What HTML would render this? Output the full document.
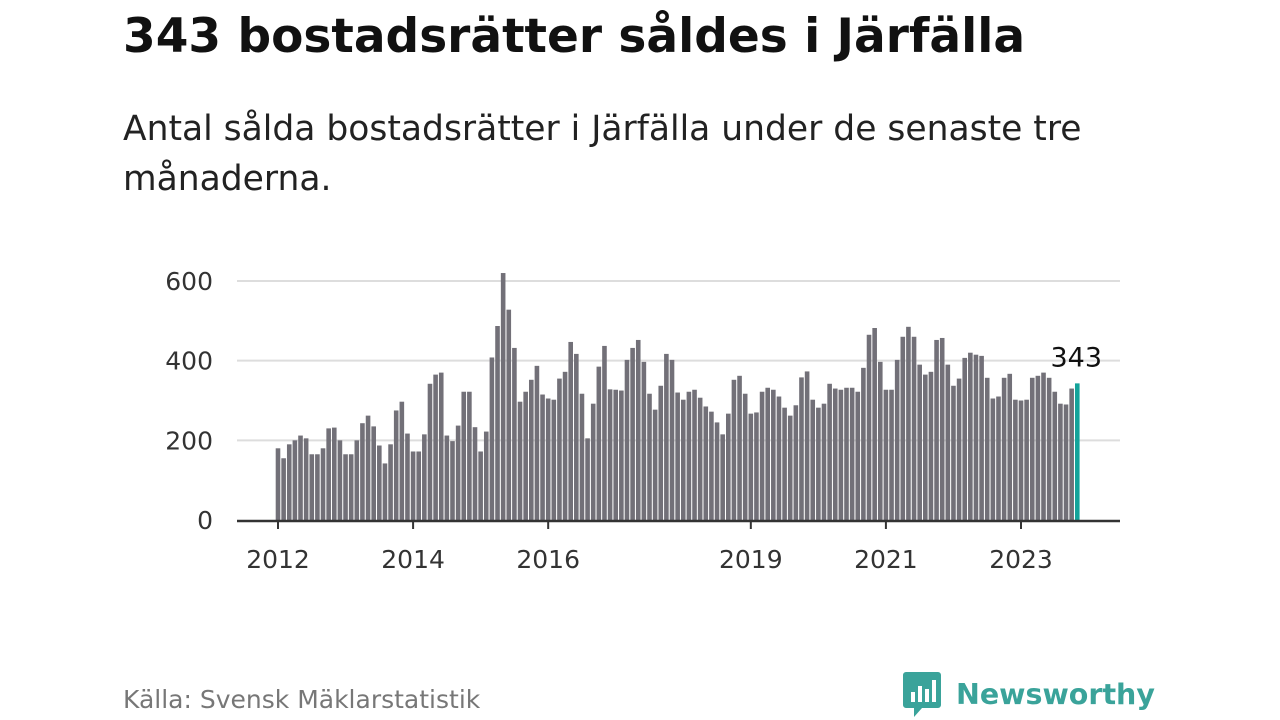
<!DOCTYPE html>
<html><head><meta charset="utf-8"><style>
body{margin:0;width:1280px;height:720px;background:#fff;font-family:"DejaVu Sans","Liberation Sans",sans-serif;overflow:hidden;position:relative}
#title{position:absolute;left:123px;top:7px;font-size:47px;font-weight:bold;color:#111;margin:0;line-height:60px;white-space:nowrap}
#sub{position:absolute;left:123px;top:104px;font-size:34.5px;color:#222;line-height:50px;width:1000px}
#src{position:absolute;left:123px;top:685px;font-size:25px;color:#777}
#logo{position:absolute;left:902px;top:670px;display:flex;align-items:center}
#logo span{font-size:28.5px;font-weight:bold;color:#3aa39a;margin-left:14px;font-family:"DejaVu Sans",sans-serif}
svg{position:absolute;left:0;top:0}
</style></head><body>
<h1 id="title">343 bostadsrätter såldes i Järfälla</h1>
<div id="sub">Antal sålda bostadsrätter i Järfälla under de senaste tre månaderna.</div>
<div id="src">Källa: Svensk Mäklarstatistik</div>
<div id="logo">
<svg style="position:static" width="40" height="48" viewBox="0 0 40 48"><path d="M4 2h32a3 3 0 0 1 3 3v30a3 3 0 0 1-3 3H20l-8 9v-9H4a3 3 0 0 1-3-3V5a3 3 0 0 1 3-3z" fill="#3aa39a"/><rect x="9" y="22" width="4" height="10" fill="#fff"/><rect x="16" y="16" width="4" height="16" fill="#fff"/><rect x="23" y="19" width="4" height="13" fill="#fff"/><rect x="30" y="10" width="4" height="22" fill="#fff"/></svg>
<span>Newsworthy</span></div>
<svg id="chart" width="1280" height="720"></svg>
<script>
const values=[180,155,190,200,212,205,165,165,180,230,232,200,
165,165,200,243,262,235,187,142,190,275,297,217,
172,172,215,342,365,370,212,198,237,322,322,233,
172,222,408,487,620,528,432,297,322,352,387,315,
305,302,355,372,447,417,317,205,292,385,437,328,
327,325,402,432,452,397,317,277,337,417,402,320,
302,322,327,307,285,272,245,215,267,352,362,317,
267,270,322,332,327,310,282,262,288,358,373,302,
282,292,342,330,327,332,332,322,382,465,482,397,
327,327,402,460,485,460,390,365,372,452,457,390,
337,355,407,420,415,412,357,305,310,357,367,302,
300,302,357,362,370,357,322,292,290,330,343];
const yTicks=[0,200,400,600];
const xTickYears=[2012,2014,2016,2019,2021,2023];
const startYear=2012;
const NS="http://www.w3.org/2000/svg";
const svg=document.getElementById('chart');
const y0=520,yScale=(520-281)/600;
const x0=278,step=(1021-278)/(11*12);
const Y=v=>y0-v*yScale, X=i=>x0+i*step;
const FF='DejaVu Sans, Liberation Sans, sans-serif';
function el(t,a){const e=document.createElementNS(NS,t);for(const k in a)e.setAttribute(k,a[k]);svg.appendChild(e);return e;}
yTicks.forEach(t=>{
 if(t>0){const g=el('line',{x1:237,x2:1120,y1:Y(t),y2:Y(t),stroke:'#ddd','stroke-width':2});
 
 }
 const tx=el('text',{x:213,y:Y(t)+9,'text-anchor':'end','font-size':25,fill:'#333','font-family':FF});
 tx.textContent=t;
 
 
});
values.forEach((v,i)=>{
 const last=i===values.length-1;
 const r=el('rect',{x:X(i)-2.3,y:Y(v),width:4.6,height:v*yScale,fill:last?'#14a39a':'#727078'});
 
 
});
const ax=el('line',{x1:237,x2:1120,y1:521,y2:521,stroke:'#333','stroke-width':2.5});


xTickYears.forEach(yr=>{
 const x=X((yr-startYear)*12);
 const tk=el('line',{x1:x,x2:x,y1:521,y2:529,stroke:'#333','stroke-width':2});
 
 
 const tx=el('text',{x:x,y:568,'text-anchor':'middle','font-size':25,fill:'#333','font-family':FF});
 tx.textContent=yr;
 
 
});
const li=values.length-1;
const lb=el('text',{x:X(li)-1,y:Y(values[li])-17,'text-anchor':'middle','font-size':27,fill:'#111','font-family':FF});
lb.textContent=values[li];


</script>
</body></html>
